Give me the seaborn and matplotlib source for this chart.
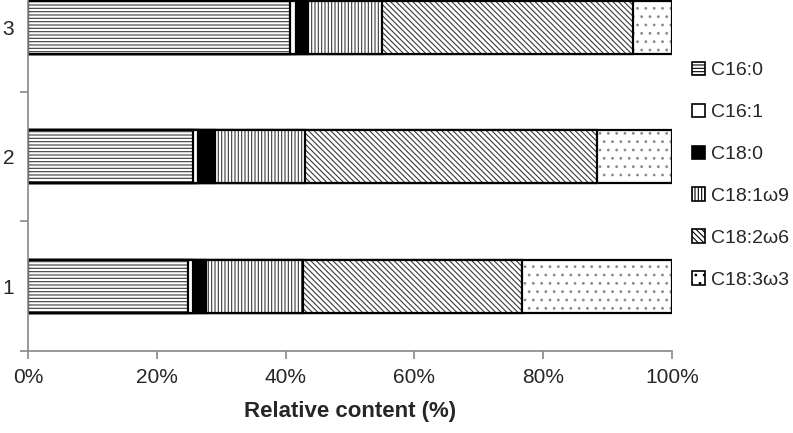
import matplotlib
matplotlib.use("Agg")
import matplotlib.pyplot as plt
import matplotlib.patches as mpatches
import numpy as np
import pandas as pd
import seaborn as sns

# data (% of total fatty acids)
samples = ["3", "2", "1"]
acids = ["C16:0", "C16:1", "C18:0", "C18:1ω9", "C18:2ω6", "C18:3ω3"]
c16_0 = [40.7, 25.6, 24.8]
c16_1 = [0.9, 0.8, 0.8]
c18_0 = [1.9, 2.6, 2.0]
c18_1w9 = [11.5, 14.0, 15.1]
c18_2w6 = [39.0, 45.3, 34.0]
c18_3w3 = [6.0, 11.7, 23.3]

fills = ["white", "white", "black", "white", "white", "white"]
hatches = ["-----", None, None, "|||||", "\\\\\\\\\\\\", ".."]
hatch_cols = ["#3a3a3a", "#3a3a3a", "#3a3a3a", "#3a3a3a", "#3a3a3a", "#8a8a8a"]

sns.set_style("white")
plt.rcParams["font.family"] = ["Liberation Sans", "DejaVu Sans"]
plt.rcParams["hatch.linewidth"] = 0.8

df = pd.DataFrame({"sample": samples, "C16:0": c16_0, "C16:1": c16_1,
                   "C18:0": c18_0, "C18:1ω9": c18_1w9,
                   "C18:2ω6": c18_2w6, "C18:3ω3": c18_3w3})
cum = df[acids].cumsum(axis=1)
cum = cum.div(cum[acids[-1]], axis=0) * 100

fig = plt.figure(figsize=(7.93, 4.33), dpi=100)
ax = fig.add_axes([0.0353, 0.1894, 0.812, 0.8106])

# overlay cumulative bars from the longest to the shortest
for i in reversed(range(len(acids))):
    tmp = pd.DataFrame({"sample": samples, "val": cum[acids[i]].values})
    sns.barplot(data=tmp, y="sample", x="val", order=samples, orient="h",
                color=fills[i], saturation=1, width=0.41,
                edgecolor=hatch_cols[i], linewidth=0, hatch=hatches[i], ax=ax)
    sns.barplot(data=tmp, y="sample", x="val", order=samples, orient="h",
                fill=False, saturation=1, width=0.41,
                edgecolor="black", linewidth=1.6, ax=ax)

ax.set_xlim(0, 100)
ax.set_ylim(2.5, -0.21)
ax.set_xticks(np.arange(0, 101, 20))
ax.set_xticklabels([f"{v}%" for v in range(0, 101, 20)], fontsize=15)
ax.set_yticks(range(len(samples)))
ax.set_yticklabels(samples, fontsize=15)
ax.set_yticks([0.5, 1.5, 2.5], minor=True)
ax.tick_params(axis="y", which="major", length=0, pad=10)
ax.tick_params(axis="y", which="minor", length=6, width=1.2, color="#888888", left=True)
ax.tick_params(axis="x", length=6, width=1.2, color="#888888", bottom=True, pad=6)
ax.set_ylabel("")
ax.set_xlabel("Relative content (%)", fontsize=16, fontweight="bold", labelpad=10)
for s in ["top", "right"]:
    ax.spines[s].set_visible(False)
for s in ["left", "bottom"]:
    ax.spines[s].set_color("#888888")
    ax.spines[s].set_linewidth(1.2)

handles = [mpatches.Patch(facecolor=fills[i], edgecolor="black", linewidth=1.2,
                          hatch=hatches[i], label=acids[i]) for i in range(len(acids))]
fig.legend(handles=handles, loc="upper left", bbox_to_anchor=(0.86, 0.88),
           frameon=False, fontsize=14, handlelength=0.7, handleheight=0.7,
           handletextpad=0.3, labelspacing=1.25, borderpad=0)

fig.savefig("out.png", dpi=100)
